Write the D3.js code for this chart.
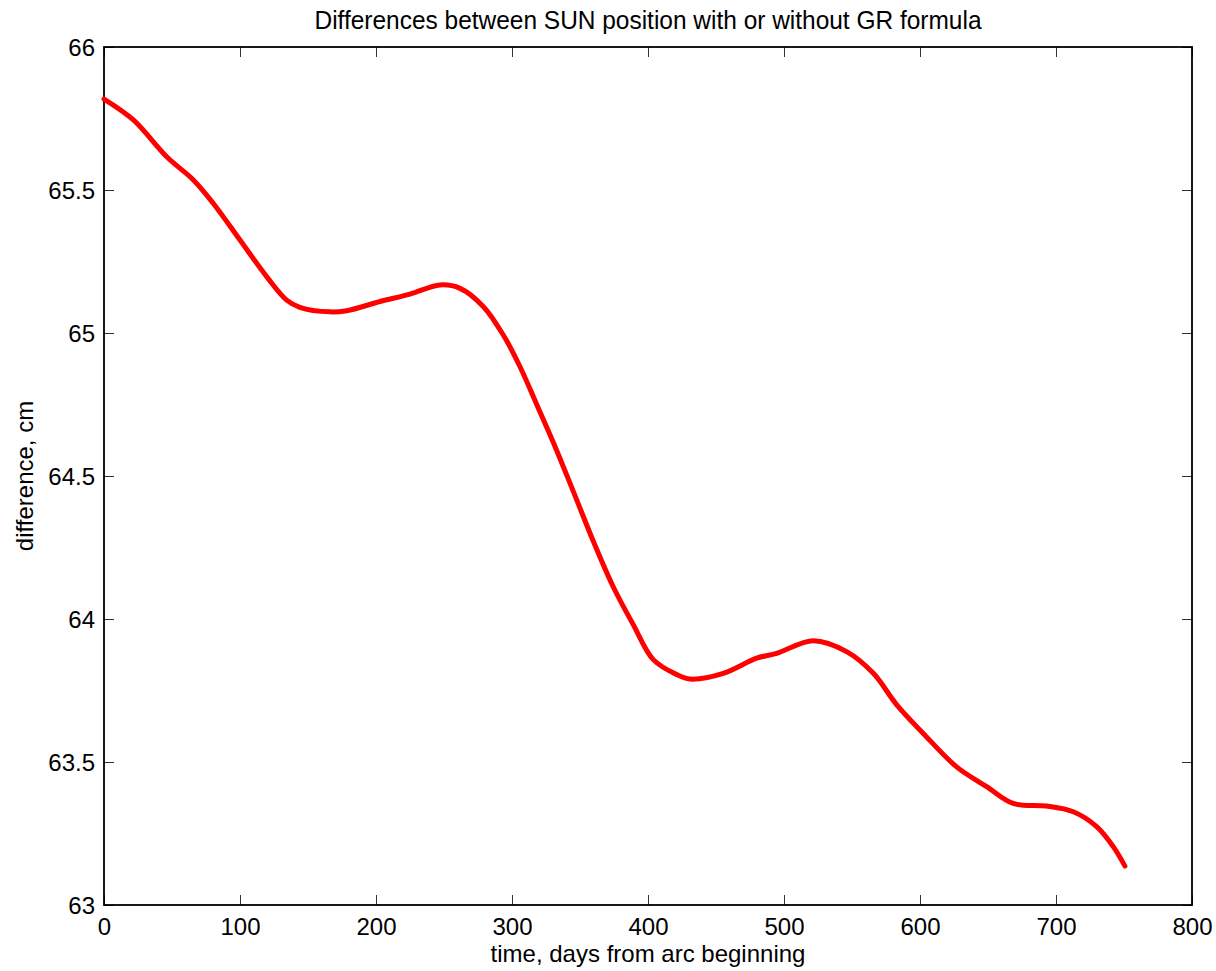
<!DOCTYPE html>
<html>
<head>
<meta charset="utf-8">
<script src="https://cdn.jsdelivr.net/npm/d3@7"></script>
<style>
  html, body { margin: 0; padding: 0; background: #fff; }
  svg { display: block; font-family: "Liberation Sans", Arial, Helvetica, sans-serif; }
</style>
</head>
<body>
<svg id="chart" width="1216" height="971"></svg>
<script>
// Time since the start of the arc (days)
const days = [0, 21.6, 46.1, 65.7, 80.4, 100, 119.6, 134.3, 144, 166, 178.4, 203, 225, 247, 261.8,
  279, 293.6, 305.9, 318, 330.4, 345, 359.8, 374.5, 389.2, 403.9, 421, 430.9, 455.4, 479.9, 494.6,
  521.6, 546, 565.7, 582.9, 602.4, 626.9, 649, 668.6, 693, 712.7, 729.9, 742.1, 750.7];
// Difference in SUN position with vs. without GR term (cm)
const difference = [65.818, 65.745, 65.616, 65.535, 65.453, 65.325, 65.197, 65.115, 65.09, 65.074,
  65.078, 65.110, 65.136, 65.168, 65.156, 65.092, 64.993, 64.882, 64.752, 64.617, 64.447, 64.272,
  64.112, 63.980, 63.858, 63.806, 63.790, 63.810, 63.863, 63.880, 63.924, 63.886, 63.810, 63.700,
  63.600, 63.483, 63.414, 63.355, 63.346, 63.326, 63.274, 63.204, 63.136];

const xTicks = [0, 100, 200, 300, 400, 500, 600, 700, 800];
const yTicks = [63, 63.5, 64, 64.5, 65, 65.5, 66];

const titleText = "Differences between SUN position with or without GR formula";
const xLabel = "time, days from arc beginning";
const yLabel = "difference, cm";

const svg = d3.select("#chart");
const L = 104, R = 1192, T = 47, B = 905;

const x = d3.scaleLinear().domain([0, 800]).range([L, R]);
const y = d3.scaleLinear().domain([63, 66]).range([B, T]);

// inward ticks on all four sides
const tickLen = 10;
const fmt = d => String(d);

const xAxisB = d3.axisBottom(x).tickValues(xTicks).tickSize(-tickLen).tickPadding(13).tickFormat(fmt);
const xAxisT = d3.axisTop(x).tickValues(xTicks).tickSize(-tickLen).tickFormat("");
const yAxisL = d3.axisLeft(y).tickValues(yTicks).tickSize(-tickLen).tickPadding(9).tickFormat(fmt);
const yAxisR = d3.axisRight(y).tickValues(yTicks).tickSize(-tickLen).tickFormat("");

function styleAxis(g) {
  g.select(".domain").remove();
  g.selectAll(".tick line").attr("stroke", "#333").attr("stroke-width", 1);
  g.selectAll(".tick text").attr("fill", "#000").style("font-size", "24px");
}

svg.append("g").attr("transform", `translate(0,${B})`).call(xAxisB).call(styleAxis)
  .selectAll(".tick text").attr("dy", "0.71em");
svg.append("g").attr("transform", `translate(0,${T})`).call(xAxisT).call(styleAxis);
svg.append("g").attr("transform", `translate(${L},0)`).call(yAxisL).call(styleAxis)
  .selectAll(".tick text").attr("dy", "0.36em");
svg.append("g").attr("transform", `translate(${R},0)`).call(yAxisR).call(styleAxis);

// axes box
svg.append("rect")
  .attr("x", L).attr("y", T).attr("width", R - L).attr("height", B - T)
  .attr("fill", "none").attr("stroke", "#000").attr("stroke-width", 1.8);

// data curve
const pts = days.map((d, i) => [d, difference[i]]);
svg.append("path")
  .datum(pts)
  .attr("fill", "none")
  .attr("stroke", "#ff0000")
  .attr("stroke-width", 5)
  .attr("stroke-linecap", "round")
  .attr("stroke-linejoin", "round")
  .attr("d", d3.line().x(d => x(d[0])).y(d => y(d[1])).curve(d3.curveCatmullRom.alpha(0.5)));

// title and labels
svg.append("text")
  .attr("x", (L + R) / 2).attr("y", 29)
  .attr("text-anchor", "middle")
  .attr("textLength", 667).attr("lengthAdjust", "spacingAndGlyphs")
  .style("font-size", "25px")
  .text(titleText);

svg.append("text")
  .attr("x", (L + R) / 2).attr("y", 962)
  .attr("text-anchor", "middle")
  .style("font-size", "24px")
  .text(xLabel);

svg.append("text")
  .attr("transform", `translate(33,${(T + B) / 2}) rotate(-90)`)
  .attr("text-anchor", "middle")
  .style("font-size", "24px")
  .text(yLabel);
</script>
</body>
</html>
